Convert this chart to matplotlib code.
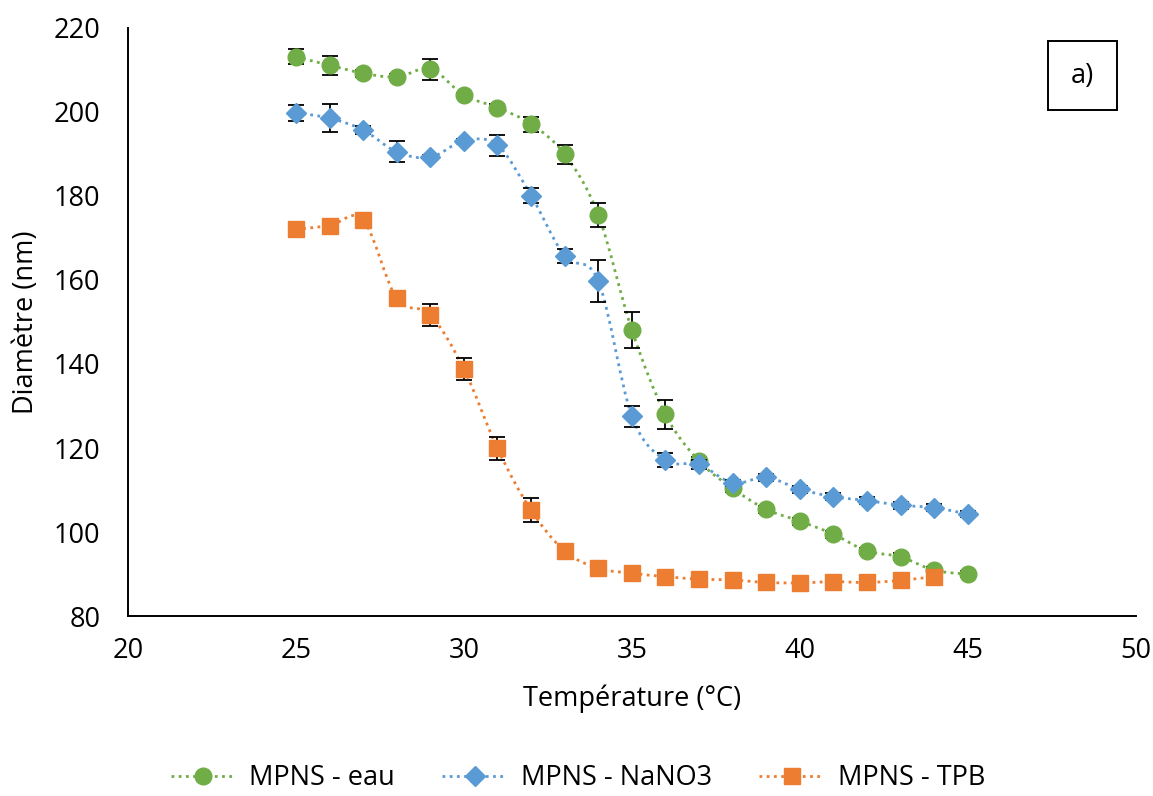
import matplotlib
matplotlib.use("Agg")
import matplotlib.pyplot as plt
import numpy as np
from matplotlib.path import Path
from matplotlib.patches import PathPatch, Rectangle
from matplotlib.lines import Line2D

plt.rcParams["font.family"] = ["Open Sans", "DejaVu Sans"]

temp = [25, 26, 27, 28, 29, 30, 31, 32, 33, 34, 35, 36, 37, 38, 39, 40, 41, 42, 43, 44, 45]

eau = [213.1, 211.1, 209.2, 208.3, 210.2, 204.0, 201.0, 197.1, 189.9, 175.5, 148.1,
       128.0, 116.9, 110.4, 105.4, 102.6, 99.5, 95.5, 94.1, 90.9, 90.0]
eau_err = [1.8, 2.3, 0.8, 0.8, 2.5, 0.5, 0.8, 1.8, 2.2, 2.8, 4.2,
           3.5, 1.0, 0.8, 0.8, 0.8, 0.8, 0.8, 0.8, 0.8, 0.8]

nano3 = [199.8, 198.5, 195.7, 190.5, 189.2, 193.1, 192.1, 180.1, 165.7, 159.8, 127.6,
         117.1, 116.1, 111.7, 113.0, 110.2, 108.4, 107.5, 106.4, 105.8, 104.3]
nano3_err = [1.9, 3.3, 1.0, 2.5, 0.5, 0.5, 2.5, 1.7, 1.6, 5.0, 2.5,
             1.6, 1.0, 0.8, 0.8, 0.8, 0.8, 0.8, 0.8, 0.8, 0.8]

temp_tpb = temp[:-1]
tpb = [172.1, 172.9, 174.3, 155.6, 151.7, 138.8, 119.9, 105.2, 95.5, 91.4, 90.2,
       89.4, 88.8, 88.6, 88.0, 87.9, 88.2, 88.0, 88.5, 89.4]
tpb_err = [0.5, 0.5, 0.5, 0.5, 2.6, 2.6, 2.7, 2.8, 0.8, 0.8, 0.8,
           0.8, 0.8, 0.8, 0.8, 0.8, 0.8, 0.8, 0.8, 0.8]

GREEN, BLUE, ORANGE = "#70AD47", "#5B9BD5", "#ED7D31"
FS = 19.5


def smooth_path(x, y):
    # Excel-like smoothed line: Catmull-Rom segments as cubic Beziers
    p = np.column_stack([x, y]).astype(float)
    ext = np.vstack([p[0], p, p[-1]])
    verts = [p[0]]
    codes = [Path.MOVETO]
    for i in range(1, len(ext) - 2):
        p0, p1, p2, p3 = ext[i - 1], ext[i], ext[i + 1], ext[i + 2]
        verts += [p1 + (p2 - p0) / 6, p2 - (p3 - p1) / 6, p2]
        codes += [Path.CURVE4] * 3
    return Path(verts, codes)


fig = plt.figure(figsize=(11.53, 7.96), dpi=100)
ax = fig.add_axes([0.111, 0.226, 0.874, 0.739])

series = [
    (temp, eau, eau_err, GREEN, "o", 12, "MPNS - eau"),
    (temp, nano3, nano3_err, BLUE, "D", 10.5, "MPNS - NaNO3"),
    (temp_tpb, tpb, tpb_err, ORANGE, "s", 12, "MPNS - TPB"),
]
handles = []
for i, (x, y, e, c, m, ms, lab) in enumerate(series):
    z = 2 + i * 3
    ax.add_patch(PathPatch(smooth_path(x, y), fill=False, edgecolor=c, lw=2,
                           linestyle=(0, (1, 1.6)), zorder=z))
    ax.errorbar(x, y, yerr=e, fmt="none", ecolor="black", elinewidth=1.3,
                capsize=6, capthick=1.3, zorder=z + 1)
    ax.plot(x, y, linestyle="none", marker=m, ms=ms, color=c, zorder=z + 2)
    handles.append(Line2D([], [], color=c, lw=2, linestyle=(0, (1, 1.6)),
                          marker=m, ms=ms, label=lab))

ax.set_xlim(20, 50)
ax.set_ylim(80, 220)
ax.set_xticks(np.arange(20, 51, 5))
ax.set_yticks(np.arange(80, 221, 20))
ax.tick_params(length=0, labelsize=FS)
ax.tick_params(axis="y", pad=20)
ax.tick_params(axis="x", pad=15)
for s in ("top", "right"):
    ax.spines[s].set_visible(False)
for s in ("left", "bottom"):
    ax.spines[s].set_linewidth(1.4)
    ax.spines[s].set_color("black")

ax.set_xlabel("Température (°C)", fontsize=FS, labelpad=14)
ax.set_ylabel("Diamètre (nm)", fontsize=FS, labelpad=10)

fig.patches.append(Rectangle((1048 / 1153, 1 - 110 / 796), 69 / 1153, 69 / 796,
                             transform=fig.transFigure, fill=False,
                             edgecolor="black", lw=1.4))
fig.text(1082 / 1153, 1 - 76 / 796, "a)", fontsize=FS, ha="center", va="center")

fig.legend(handles=handles, loc="center", bbox_to_anchor=(578 / 1153, 1 - 778 / 796),
           ncol=3, frameon=False, fontsize=FS, handlelength=2.4,
           columnspacing=1.75, handletextpad=0.5)

fig.savefig("out.png", dpi=100)
